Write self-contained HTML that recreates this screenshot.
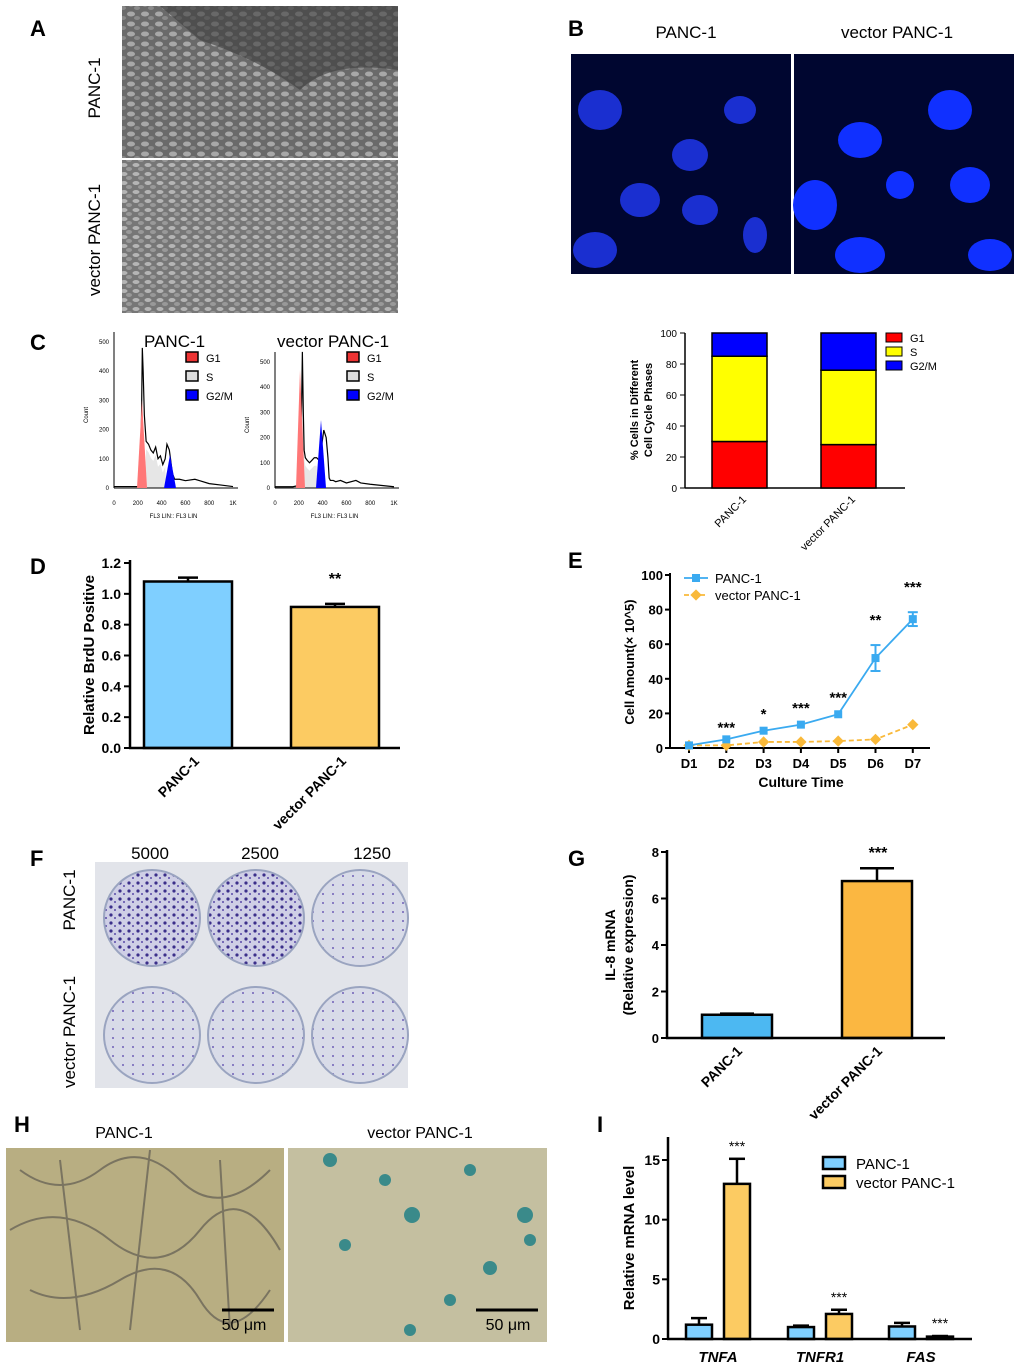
<!DOCTYPE html>
<html><head><meta charset="utf-8"><style>
body{margin:0;background:#fff}
svg{display:block;font-family:"Liberation Sans",Arial,sans-serif}
</style></head><body>
<svg id="fig" width="1020" height="1369" viewBox="0 0 1020 1369" xmlns="http://www.w3.org/2000/svg">
<defs>
<pattern id="cells" width="14" height="10" patternUnits="userSpaceOnUse"><rect width="14" height="10" fill="#6a6a6a"/><ellipse cx="5" cy="4" rx="4" ry="2.5" fill="#a8a8a8"/><ellipse cx="11" cy="8" rx="3" ry="2" fill="#8a8a8a"/></pattern>
<pattern id="cells2" width="12" height="9" patternUnits="userSpaceOnUse"><rect width="12" height="9" fill="#777"/><ellipse cx="4" cy="3" rx="3.5" ry="2" fill="#b5b5b5"/><ellipse cx="9" cy="7" rx="3" ry="2" fill="#999"/></pattern>
<pattern id="dots" width="9" height="8" patternUnits="userSpaceOnUse"><rect width="9" height="8" fill="#cfcfe6"/><circle cx="3" cy="3" r="1.6" fill="#3b2f8a"/><circle cx="7" cy="6" r="1" fill="#5a4aa8"/></pattern>
<pattern id="dots2" width="10" height="9" patternUnits="userSpaceOnUse"><rect width="10" height="9" fill="#d8dbe8"/><circle cx="3" cy="3" r="1" fill="#7060b8"/></pattern>
</defs>
<g font-weight="bold" font-size="22" fill="#000">
<text x="30" y="36">A</text>
<text x="568" y="36">B</text>
<text x="30" y="350">C</text>
<text x="30" y="574">D</text>
<text x="568" y="568">E</text>
<text x="30" y="866">F</text>
<text x="568" y="866">G</text>
<text x="14" y="1132">H</text>
<text x="597" y="1132">I</text>
</g>
<!-- A -->
<rect x="122" y="6" width="276" height="152" fill="url(#cells)"/>
<path d="M160 6 L398 6 L398 70 Q330 60 300 90 Q260 60 200 40 Z" fill="#3d3d3d" opacity="0.6"/>
<rect x="122" y="160" width="276" height="153" fill="url(#cells2)"/>
<text transform="translate(100,88) rotate(-90)" text-anchor="middle" font-size="17">PANC-1</text>
<text transform="translate(100,240) rotate(-90)" text-anchor="middle" font-size="17">vector PANC-1</text>
<!-- B -->
<text x="686" y="38" text-anchor="middle" font-size="17">PANC-1</text>
<text x="897" y="38" text-anchor="middle" font-size="17">vector PANC-1</text>
<rect x="571" y="54" width="220" height="220" fill="#000630"/>
<g fill="#1a2fd0"><ellipse cx="600" cy="110" rx="22" ry="20"/><ellipse cx="690" cy="155" rx="18" ry="16"/><ellipse cx="640" cy="200" rx="20" ry="17"/><ellipse cx="700" cy="210" rx="18" ry="15"/><ellipse cx="595" cy="250" rx="22" ry="18"/><ellipse cx="755" cy="235" rx="12" ry="18"/><ellipse cx="740" cy="110" rx="16" ry="14"/></g>
<rect x="794" y="54" width="220" height="220" fill="#000630"/>
<g fill="#1030ff"><ellipse cx="860" cy="140" rx="22" ry="18"/><ellipse cx="950" cy="110" rx="22" ry="20"/><ellipse cx="815" cy="205" rx="22" ry="25"/><ellipse cx="970" cy="185" rx="20" ry="18"/><ellipse cx="860" cy="255" rx="25" ry="18"/><ellipse cx="990" cy="255" rx="22" ry="16"/><ellipse cx="900" cy="185" rx="14" ry="14"/></g>
<!-- F -->
<g font-size="17"><text x="150" y="859" text-anchor="middle">5000</text><text x="260" y="859" text-anchor="middle">2500</text><text x="372" y="859" text-anchor="middle">1250</text></g>
<rect x="95" y="862" width="313" height="226" fill="#e2e4ea"/>
<g stroke="#9aa4c0" stroke-width="2"><circle cx="152" cy="918" r="48" fill="url(#dots)"/><circle cx="256" cy="918" r="48" fill="url(#dots)"/><circle cx="360" cy="918" r="48" fill="url(#dots2)"/>
<circle cx="152" cy="1035" r="48" fill="url(#dots2)"/><circle cx="256" cy="1035" r="48" fill="url(#dots2)"/><circle cx="360" cy="1035" r="48" fill="url(#dots2)"/></g>
<text transform="translate(75,900) rotate(-90)" text-anchor="middle" font-size="17">PANC-1</text>
<text transform="translate(75,1032) rotate(-90)" text-anchor="middle" font-size="17">vector PANC-1</text>
<!-- H -->
<text x="124" y="1138" text-anchor="middle" font-size="16">PANC-1</text>
<text x="420" y="1138" text-anchor="middle" font-size="16">vector PANC-1</text>
<rect x="6" y="1148" width="278" height="194" fill="#b8ae82"/>
<g fill="none" stroke="#7a7460" stroke-width="2"><path d="M20 1170 q40 30 80 0 t80 10 t90 -10"/><path d="M10 1230 q50 -30 100 10 t90 -10 t80 20"/><path d="M30 1290 q40 20 90 -10 t80 20 t70 -10"/><path d="M60 1160 l20 170 M150 1150 l-20 180 M220 1160 l10 170"/></g>
<rect x="288" y="1148" width="259" height="194" fill="#c4bfa0"/>
<g fill="#3a8a8a"><circle cx="330" cy="1160" r="7"/><circle cx="385" cy="1180" r="6"/><circle cx="470" cy="1170" r="6"/><circle cx="412" cy="1215" r="8"/><circle cx="525" cy="1215" r="8"/><circle cx="345" cy="1245" r="6"/><circle cx="490" cy="1268" r="7"/><circle cx="530" cy="1240" r="6"/><circle cx="450" cy="1300" r="6"/><circle cx="410" cy="1330" r="6"/></g>
<g font-size="16"><line x1="222" y1="1310" x2="274" y2="1310" stroke="#000" stroke-width="3"/><text x="244" y="1330" text-anchor="middle">50 μm</text>
<line x1="476" y1="1310" x2="538" y2="1310" stroke="#000" stroke-width="3"/><text x="508" y="1330" text-anchor="middle">50 μm</text></g>
<g id="charts"></g>
</svg>
<script>
const NS="http://www.w3.org/2000/svg";
const root=document.getElementById('charts');
function el(t,a,p,txt){const e=document.createElementNS(NS,t);for(const k in a)e.setAttribute(k,a[k]);if(txt!==undefined)e.textContent=txt;(p||root).appendChild(e);return e;}
function lin(d0,d1,r0,r1){return v=>r0+(v-d0)/(d1-d0)*(r1-r0);}

// C: cell-cycle stacked bars
const ccCats=["PANC-1","vector PANC-1"];
const ccG1=[30,28];
const ccS=[55,48];
const ccG2M=[15,24];
const ccTicks=[0,20,40,60,80,100];
{const y=lin(0,100,488,333);const cx=[739,848];const g=el('g',{});

el('line',{x1:685,y1:333,x2:685,y2:488,stroke:'#000','stroke-width':1.5},g);
el('line',{x1:685,y1:488,x2:905,y2:488,stroke:'#000','stroke-width':1.5},g);
ccTicks.forEach(t=>{el('line',{x1:680,x2:685,y1:y(t),y2:y(t),stroke:'#000'},g);el('text',{x:677,y:y(t)+4,'text-anchor':'end','font-size':10},g,t);});
ccCats.forEach((c,i)=>{let b=0;[[ccG1[i],'#f00'],[ccS[i],'#ff0'],[ccG2M[i],'#00f']].forEach(([v,col])=>{const r=el('rect',{x:cx[i]-27,y:y(b+v),width:55,height:y(b)-y(b+v),fill:col,stroke:'#000','stroke-width':1.5},g);b+=v;});
el('text',{transform:`translate(${cx[i]+8},500) rotate(-45)`,'text-anchor':'end','font-size':11},g,c);});
[['G1','#f00',338],['S','#ff0',352],['G2/M','#00f',366]].forEach(([n,c,yy])=>{el('rect',{x:886,y:yy-5,width:16,height:9,fill:c,stroke:'#000'},g);el('text',{x:910,y:yy+4,'font-size':11},g,n);});
el('text',{transform:'translate(638,410) rotate(-90)','text-anchor':'middle','font-size':11,'font-weight':'bold'},g,'% Cells in Different');
el('text',{transform:'translate(652,410) rotate(-90)','text-anchor':'middle','font-size':11,'font-weight':'bold'},g,'Cell Cycle Phases');}

// C histograms
const histTicksY=[0,100,200,300,400,500];
const histTicksX=[0,200,400,600,800,1000];
const histX=[0,150,200,215,230,238,245,255,270,290,310,330,350,370,390,410,430,445,455,465,475,490,510,550,600,680,720,800,900,1000];
const histA=[5,5,5,10,200,480,400,250,160,150,130,120,140,100,110,80,100,150,140,130,100,50,30,30,25,30,25,15,10,5];
const histB=[5,5,10,40,540,300,150,120,110,100,110,120,120,110,160,230,200,120,40,30,30,30,25,30,20,30,20,15,10,5];
function histo(x0,x1,y0,y1max,ymax,data,title,tx,g1,g2){const g=el('g',{});
const x=lin(0,1000,x0,x1),y=lin(0,ymax,y0,y1max);
const pts=histX.map((v,i)=>[v,data[i]]).filter(p=>p[0]>=g1&&p[0]<=g2);
el('path',{d:'M'+x(g1)+' '+y0+' L'+pts.map(p=>x(p[0])+' '+(y(p[1])+8)).join(' L')+' L'+x(g2)+' '+y0+'Z',fill:'#e6e6e6'},g);
el('line',{x1:x0,y1:y0,x2:x0,y2:y(ymax)-10,stroke:'#000'},g);el('line',{x1:x0,y1:y0,x2:x1+5,y2:y0,stroke:'#000'},g);
histTicksY.forEach(t=>{if(t<=ymax){el('text',{x:x0-5,y:y(t)+2,'text-anchor':'end','font-size':6},g,t);}});
histTicksX.forEach(t=>el('text',{x:x(t),y:y0+17,'text-anchor':'middle','font-size':6},g,t==1000?'1K':t));
el('text',{x:(x0+x1)/2,y:y0+30,'text-anchor':'middle','font-size':6},g,'FL3 LIN:: FL3 LIN');
el('text',{transform:`translate(${x0-26},${(y0+y1max)/2}) rotate(-90)`,'text-anchor':'middle','font-size':6},g,'Count');
el('path',{d:'M'+histX.map((v,i)=>x(v)+' '+y(data[i])).join(' L'),fill:'none',stroke:'#000','stroke-width':1.2},g);
el('text',{x:tx,y:347,'font-size':17},g,title);
[['G1','#e33',358],['S','#ddd',377],['G2/M','#00f',396]].forEach(([n,c,yy])=>{el('rect',{x:x0+72,y:yy-6,width:12,height:10,fill:c,stroke:'#000','stroke-width':1.5},g);el('text',{x:x0+92,y:yy+4,'font-size':11},g,n);});}
histo(114,233,488,342,500,histA,'PANC-1',144,260,440);
histo(275,394,488,362,500,histB,'vector PANC-1',277,220,360);
el('polygon',{points:'137,488 142,400 147,488',fill:'#f77'});el('polygon',{points:'164,488 170,455 176,488',fill:'#00f'});
el('polygon',{points:'296,488 300,370 305,488',fill:'#f77'});el('polygon',{points:'316,488 321,420 326,488',fill:'#00f'});

// bar helper
function errBar(g,cx,yTop,yErr,w){el('line',{x1:cx,x2:cx,y1:yTop,y2:yErr,stroke:'#000','stroke-width':2.5},g);el('line',{x1:cx-w,x2:cx+w,y1:yErr,y2:yErr,stroke:'#000','stroke-width':2.5},g);}

// D
const dCats=["PANC-1","vector PANC-1"];
const dVals=[1.08,0.915];
const dErr=[0.025,0.02];
const dTicks=[0.0,0.2,0.4,0.6,0.8,1.0,1.2];
{const g=el('g',{});
const y=lin(0,1.2,748,563);const cx=[188,335];const cols=['#7fcfff','#fccb62'];
dCats.forEach((c,i)=>{errBar(g,cx[i],y(dVals[i]),y(dVals[i]+dErr[i]),10);const r=el('rect',{x:cx[i]-44,y:y(dVals[i]),width:88,height:748-y(dVals[i]),fill:cols[i],stroke:'#000','stroke-width':2.5},g);
el('text',{transform:`translate(${cx[i]+12},762) rotate(-45)`,'text-anchor':'end','font-size':14,'font-weight':'bold'},g,c);});
el('line',{x1:130,y1:560,x2:130,y2:749,stroke:'#000','stroke-width':2.5},g);el('line',{x1:129,y1:748,x2:400,y2:748,stroke:'#000','stroke-width':2.5},g);
dTicks.forEach(t=>{el('line',{x1:124,x2:130,y1:y(t),y2:y(t),stroke:'#000','stroke-width':2},g);el('text',{x:121,y:y(t)+5,'text-anchor':'end','font-size':14,'font-weight':'bold'},g,t.toFixed(1));});
el('text',{x:335,y:584,'text-anchor':'middle','font-size':16,'font-weight':'bold'},g,'**');
el('text',{transform:'translate(94,655) rotate(-90)','text-anchor':'middle','font-size':15,'font-weight':'bold'},g,'Relative BrdU Positive');}

// E
const eDays=["D1","D2","D3","D4","D5","D6","D7"];
const ePanc=[1.5,5,10,13.5,19.5,52,74.5];
const ePancErr=[0,0.5,1,1,1,7.5,4];
const eVec=[1.5,1.5,3.5,3.5,4,5,13.5];
const eStars=["","***","*","***","***","**","***"];
const eTicks=[0,20,40,60,80,100];
{const g=el('g',{});
const y=lin(0,100,748,575);const x=i=>689+i*37.3;
el('line',{x1:670,y1:573,x2:670,y2:749,stroke:'#000','stroke-width':2},g);el('line',{x1:670,y1:748,x2:930,y2:748,stroke:'#000','stroke-width':2},g);
eTicks.forEach(t=>{el('line',{x1:665,x2:670,y1:y(t),y2:y(t),stroke:'#000','stroke-width':2},g);el('text',{x:663,y:y(t)+5,'text-anchor':'end','font-size':13,'font-weight':'bold'},g,t);});
eDays.forEach((d,i)=>{el('line',{x1:x(i),x2:x(i),y1:748,y2:753,stroke:'#000','stroke-width':2},g);el('text',{x:x(i),y:768,'text-anchor':'middle','font-size':13,'font-weight':'bold'},g,d);
if(eStars[i])el('text',{x:x(i),y:y(ePanc[i]+ePancErr[i])-10-(i==5?10:i==6?10:0)+(i==1?4:0),'text-anchor':'middle','font-size':15,'font-weight':'bold'},g,eStars[i]);});
el('polyline',{points:eVec.map((v,i)=>x(i)+','+y(v)).join(' '),fill:'none',stroke:'#f9b93a','stroke-width':1.8,'stroke-dasharray':'5,3'},g);
eVec.forEach((v,i)=>{const p=el('rect',{x:x(i)-4,y:y(v)-4,width:8,height:8,fill:'#f9b93a',transform:`rotate(45 ${x(i)} ${y(v)})`},g);});
el('polyline',{points:ePanc.map((v,i)=>x(i)+','+y(v)).join(' '),fill:'none',stroke:'#3aaaf0','stroke-width':1.8},g);
ePanc.forEach((v,i)=>{if(ePancErr[i]>1){el('line',{x1:x(i),x2:x(i),y1:y(v-ePancErr[i]),y2:y(v+ePancErr[i]),stroke:'#3aaaf0','stroke-width':2},g);[v-ePancErr[i],v+ePancErr[i]].forEach(e=>el('line',{x1:x(i)-5,x2:x(i)+5,y1:y(e),y2:y(e),stroke:'#3aaaf0','stroke-width':2},g));}
const p=el('rect',{x:x(i)-4,y:y(v)-4,width:8,height:8,fill:'#3aaaf0'},g);});
el('line',{x1:684,x2:708,y1:578,y2:578,stroke:'#3aaaf0','stroke-width':1.8},g);el('rect',{x:692,y:574,width:8,height:8,fill:'#3aaaf0'},g);el('text',{x:715,y:583,'font-size':13},g,'PANC-1');
el('line',{x1:684,x2:708,y1:595,y2:595,stroke:'#f9b93a','stroke-width':1.8,'stroke-dasharray':'5,3'},g);el('rect',{x:692,y:591,width:8,height:8,fill:'#f9b93a',transform:'rotate(45 696 595)'},g);el('text',{x:715,y:600,'font-size':13},g,'vector PANC-1');
el('text',{x:801,y:787,'text-anchor':'middle','font-size':14,'font-weight':'bold'},g,'Culture Time');
el('text',{transform:'translate(634,662) rotate(-90)','text-anchor':'middle','font-size':13,'font-weight':'bold'},g,'Cell Amount(× 10^5)');}

// G
const gCats=["PANC-1","vector PANC-1"];
const gVals=[1.0,6.75];
const gErr=[0.05,0.55];
const gTicks=[0,2,4,6,8];
{const g=el('g',{});
const y=lin(0,8,1038,852);const cx=[737,877];const cols=['#4cb8f2','#fbb741'];
gCats.forEach((c,i)=>{errBar(g,cx[i],y(gVals[i]),y(gVals[i]+gErr[i]),17);const r=el('rect',{x:cx[i]-35,y:y(gVals[i]),width:70,height:1038-y(gVals[i]),fill:cols[i],stroke:'#000','stroke-width':2.5},g);
el('text',{transform:`translate(${cx[i]+6},1052) rotate(-45)`,'text-anchor':'end','font-size':14,'font-weight':'bold'},g,c);});
el('line',{x1:667,y1:850,x2:667,y2:1039,stroke:'#000','stroke-width':2.5},g);el('line',{x1:666,y1:1038,x2:945,y2:1038,stroke:'#000','stroke-width':2.5},g);
gTicks.forEach(t=>{el('line',{x1:661,x2:667,y1:y(t),y2:y(t),stroke:'#000','stroke-width':2},g);el('text',{x:659,y:y(t)+5,'text-anchor':'end','font-size':13,'font-weight':'bold'},g,t);});
el('text',{x:878,y:858,'text-anchor':'middle','font-size':16,'font-weight':'bold'},g,'***');
el('text',{transform:'translate(615,945) rotate(-90)','text-anchor':'middle','font-size':14,'font-weight':'bold'},g,'IL-8 mRNA');
el('text',{transform:'translate(633,945) rotate(-90)','text-anchor':'middle','font-size':14,'font-weight':'bold'},g,'(Relative expression)');}

// I
const iGenes=["TNFA","TNFR1","FAS"];
const iPanc=[1.2,1.0,1.05];
const iPancErr=[0.55,0.12,0.3];
const iVec=[13.0,2.1,0.2];
const iVecErr=[2.1,0.35,0.05];
const iTicks=[0,5,10,15];
{const g=el('g',{});
const y=lin(0,15,1339,1160);const cx=[718,820,921];
iGenes.forEach((n,i)=>{[[iPanc,iPancErr,-19,'#7fcfff'],[iVec,iVecErr,19,'#fccb62']].forEach(([v,e,off,col])=>{const c=cx[i]+off;errBar(g,c,y(v[i]),y(v[i]+e[i]),8);const r=el('rect',{x:c-13,y:y(v[i]),width:26,height:1339-y(v[i]),fill:col,stroke:'#000','stroke-width':2.5},g);});
el('text',{x:cx[i]+19,y:y(iVec[i]+iVecErr[i])-8,'text-anchor':'middle','font-size':14},g,'***');
el('text',{x:cx[i],y:1362,'text-anchor':'middle','font-size':15,'font-weight':'bold','font-style':'italic'},g,n);});
el('line',{x1:668,y1:1137,x2:668,y2:1340,stroke:'#000','stroke-width':2.5},g);el('line',{x1:667,y1:1339,x2:972,y2:1339,stroke:'#000','stroke-width':2.5},g);
iTicks.forEach(t=>{el('line',{x1:662,x2:668,y1:y(t),y2:y(t),stroke:'#000','stroke-width':2},g);el('text',{x:660,y:y(t)+5,'text-anchor':'end','font-size':14,'font-weight':'bold'},g,t);});
el('rect',{x:823,y:1157,width:22,height:12,fill:'#7fcfff',stroke:'#000','stroke-width':2.5},g);el('text',{x:856,y:1169,'font-size':15},g,'PANC-1');
el('rect',{x:823,y:1176,width:22,height:12,fill:'#fccb62',stroke:'#000','stroke-width':2.5},g);el('text',{x:856,y:1188,'font-size':15},g,'vector PANC-1');
el('text',{transform:'translate(634,1238) rotate(-90)','text-anchor':'middle','font-size':15,'font-weight':'bold'},g,'Relative mRNA level');}
</script>
</body></html>
